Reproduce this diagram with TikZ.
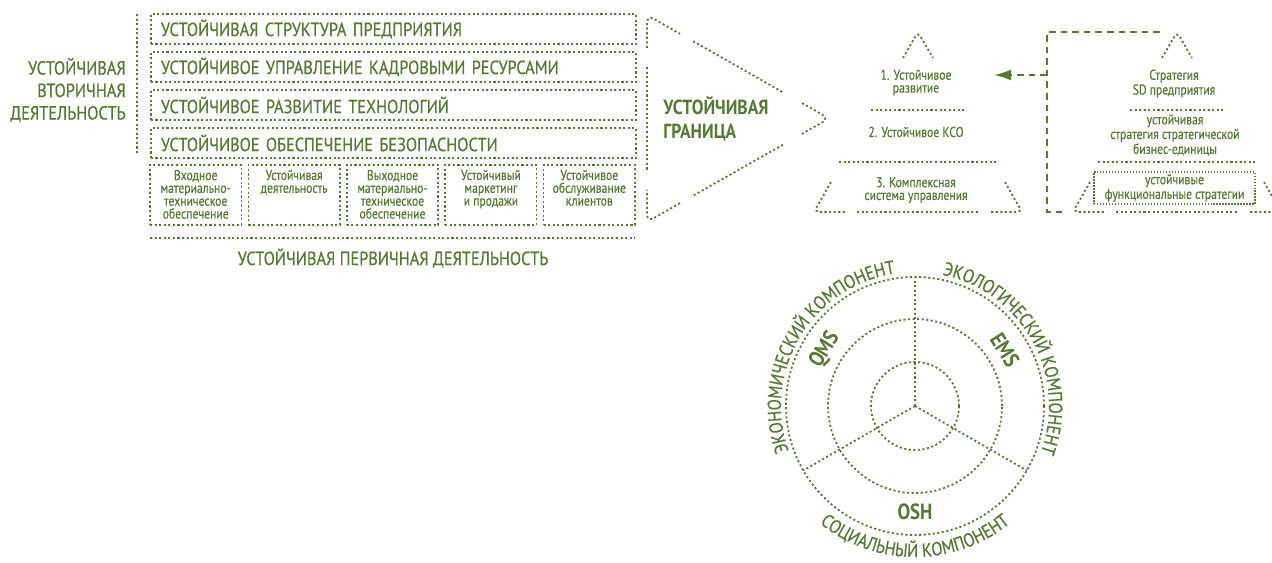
\documentclass[tikz,border=0pt]{standalone}
\usepackage{fontspec}
\setmainfont{PT Sans}[FakeStretch=0.86, UprightFeatures={FakeBold=0.6}]
\newfontfamily\condfont{PT Sans}[FakeStretch=0.82, UprightFeatures={FakeBold=0.5}]
\usetikzlibrary{arrows.meta,decorations.text}

\definecolor{sdgreen}{RGB}{86,122,52}
\newcommand{\arctext}{\fontsize{10.8}{12}\selectfont\color{sdgreen}}

\tikzset{
  dotline/.style={draw=sdgreen, line width=1pt, dash pattern=on 1.2pt off 1.4pt},
  fineline/.style={draw=sdgreen, line width=0.6pt, dash pattern=on 0.7pt off 1pt},
  dashline/.style={draw=sdgreen, line width=1.2pt, dash pattern=on 3.8pt off 2.8pt},
  caps/.style={text=sdgreen, inner sep=0pt, font=\fontsize{10.8}{12.8}\selectfont},
  boldcaps/.style={text=sdgreen, inner sep=0pt, font=\bfseries\fontsize{11.6}{11.6}\selectfont},
  small/.style={text=sdgreen, inner sep=0pt, align=center, font=\condfont\fontsize{8.1}{7.3}\selectfont},
  sysname/.style={text=sdgreen, inner sep=0pt, font=\bfseries\fontsize{12.5}{12.5}\selectfont},
  rowbox/.style={dotline, caps, anchor=west, align=left, text width=9.3cm,
    inner xsep=0.2cm, inner ysep=0pt, minimum height=0.6cm},
  cellbox/.style={dotline, inner sep=0pt, minimum width=1.828cm, minimum height=1.2cm},
  framebox/.style={fineline, small, minimum width=3.22cm, minimum height=0.64cm}
}

\begin{document}
\begin{tikzpicture}[x=0.02cm, y=-0.02cm]
    \useasboundingbox (0,0) rectangle (1272,563);
    \clip (0,0) rectangle (1272,563);

    % Secondary activities
    \node [caps, anchor=east, align=right] (sec) at (126,90) {УСТОЙЧИВАЯ\\ВТОРИЧНАЯ\\ДЕЯТЕЛЬНОСТЬ};
    \draw [dotline] (137,14) -- (137,155);
    \foreach \y/\t [count=\i] in {29/УСТОЙЧИВАЯ СТРУКТУРА ПРЕДПРИЯТИЯ,
        67/УСТОЙЧИВОЕ УПРАВЛЕНИЕ КАДРОВЫМИ РЕСУРСАМИ,
        105/УСТОЙЧИВОЕ РАЗВИТИЕ ТЕХНОЛОГИЙ,
        143/УСТОЙЧИВОЕ ОБЕСПЕЧЕНИЕ БЕЗОПАСНОСТИ}
      \node [rowbox] (row\i) at (150,\y) {\t};

    % Primary activities
    \foreach \x/\t [count=\i] in {195.7/{Входное\\материально-\\техническое\\обеспечение},
        294.1/{Устойчивая\\деятельность},
        392.5/{Выходное\\материально-\\техническое\\обеспечение},
        490.9/{Устойчивый\\маркетинг\\и продажи},
        589.3/{Устойчивое\\обслуживание\\клиентов}}
    {
      \node [cellbox] (cell\i) at (\x,195) {};
      \node [small, anchor=north] (celltext\i) at ([yshift=-0.11cm]cell\i.north) {\t};
    }
    \draw [dotline] (150,238) -- (635,238);
    \node [caps] (prim) at (393,258) {УСТОЙЧИВАЯ ПЕРВИЧНАЯ ДЕЯТЕЛЬНОСТЬ};

    % Boundary arrow
    \draw [dotline, rounded corners=0.15cm] (647,48) -- (647,15) -- (680,33.8);
    \draw [dotline] (693,41.2) -- (783,92.3);
    \draw [dotline, rounded corners=0.15cm] (802,103.1) -- (829,118.5) -- (802,133.9);
    \draw [dotline] (783,144.7) -- (693,195.8);
    \draw [dotline, rounded corners=0.15cm] (680,203.2) -- (647,222) -- (647,190);
    \draw [dotline] (647,67) -- (647,171);
    \node [boldcaps, anchor=west, align=left] (bound) at (663,119) {УСТОЙЧИВАЯ\\[2pt]ГРАНИЦА};

    % Pyramids
    \foreach \cx in {918,1177} {
      \draw [dotline, rounded corners=0.1cm] ({\cx-15},58) -- (\cx,32) -- ({\cx+15},58);
      \draw [dotline, rounded corners=0.1cm] ({\cx-87},182) -- ({\cx-104},212) -- ({\cx-72},212);
      \draw [dotline, rounded corners=0.1cm] ({\cx+87},182) -- ({\cx+104},212) -- ({\cx+72},212);
      \draw [dotline] ({\cx-61},212) -- ({\cx+61},212);
      \draw [dotline] ({\cx-47},110) -- ({\cx+47},110);
      \draw [dotline] ({\cx-79},162) -- ({\cx+79},162);
    }
    \node [small] (lvl1) at (916,82.5) {1. Устойчивое\\развитие};
    \node [small] (lvl2) at (916,132) {2. Устойчивое КСО};
    \node [small] (lvl3) at (916,190) {3. Комплексная\\система управления};
    \node [small] (str1) at (1174,83.5) {Стратегия\\SD предприятия};
    \node [small] (str2) at (1175,135) {устойчивая\\стратегия стратегической\\бизнес-единицы};
    \node [framebox] (str3) at (1174.5,188) {устойчивые\\функциональные стратегии};

    % Strategy bracket
    \coordinate (from) at (1047,75);
    \coordinate (to) at (994,75);
    \draw [dashline] (1160,32) -- (1047,32) -- (1047,212) -- (1062,212);
    \draw [dashline, -{Latex[length=0.34cm,width=0.22cm]}] (from) -- (to);

    % Components
    \begin{scope}[shift={(915,406)}, y=0.02cm]
      \draw [dotline] (0,0) circle [radius=129];
      \draw [dotline] (0,0) circle [radius=87];
      \draw [dotline] (0,0) circle [radius=44];
      \foreach \a in {90,210,330}
        \draw [dotline] (0,0) -- (\a:129);
      \node [sysname, rotate=58] (qms) at (148:106) {QMS};
      \node [sysname, rotate=-58] (ems) at (32:106) {EMS};
      \node [sysname] (osh) at (270:106) {OSH};
      \path [decorate, decoration={text along path, text align=center,
          text={|\arctext|ЭКОНОМИЧЕСКИЙ КОМПОНЕНТ}}]
        (209:134) arc [start angle=209, end angle=89, radius=134];
      \path [decorate, decoration={text along path, text align=center,
          text={|\arctext|ЭКОЛОГИЧЕСКИЙ КОМПОНЕНТ}}]
        (89:134) arc [start angle=89, end angle=-31, radius=134];
      \path [decorate, decoration={text along path, text align=center,
          text={|\arctext|СОЦИАЛЬНЫЙ КОМПОНЕНТ}}]
        (210:151) arc [start angle=210, end angle=330, radius=151];
    \end{scope}
\end{tikzpicture}
\end{document}
